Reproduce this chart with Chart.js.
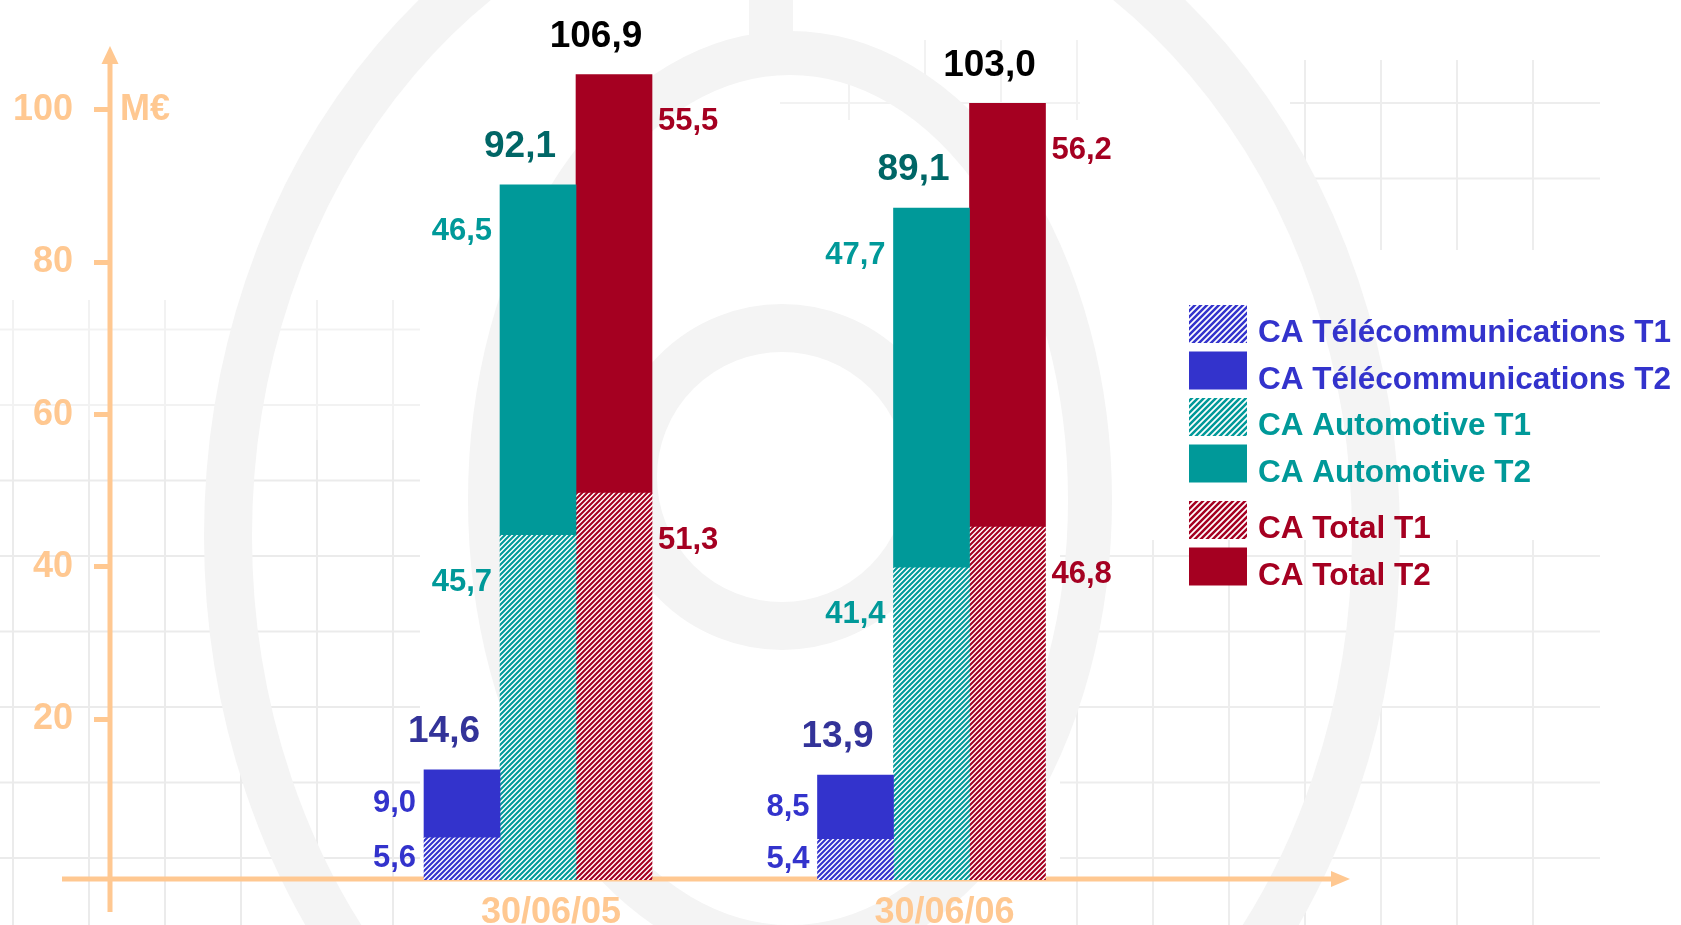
<!DOCTYPE html>
<html>
<head>
<meta charset="utf-8">
<script src="https://cdn.jsdelivr.net/npm/chart.js@4.4.1/dist/chart.umd.min.js"></script>
<style>
  html, body { margin: 0; padding: 0; background: #ffffff; overflow: hidden; }
  #wrap { width: 1681px; height: 925px; position: relative; }
</style>
</head>
<body>
<div id="wrap"><canvas id="c"></canvas></div>
<script>
// ---------- data ----------
const categories = ['30/06/05', '30/06/06'];
const telecomT1 = [5.6, 5.4];
const telecomT2 = [9.0, 8.5];
const automotiveT1 = [45.7, 41.4];
const automotiveT2 = [46.5, 47.7];
const totalT1 = [51.3, 46.8];
const totalT2 = [55.5, 56.2];
const telecomSum = [14.6, 13.9];
const automotiveSum = [92.1, 89.1];
const totalSum = [106.9, 103.0];
const yTickValues = [20, 40, 60, 80, 100];
const yUnit = 'M€';
const seriesNames = [
  'CA Télécommunications T1', 'CA Télécommunications T2',
  'CA Automotive T1', 'CA Automotive T2',
  'CA Total T1', 'CA Total T2'
];

// ---------- styles ----------
const FONT = '"Liberation Sans", Arial, Helvetica, sans-serif';
const PEACH = '#FFC891';
const BLUE = '#3333CC';
const TEAL = '#009999';
const RED = '#A50021';

function hatch(color, p) {
  const c = document.createElement('canvas');
  c.width = p; c.height = p;
  const g = c.getContext('2d');
  g.fillStyle = '#ffffff';
  g.fillRect(0, 0, p, p);
  g.strokeStyle = color;
  g.lineWidth = p * 0.42;
  g.beginPath();
  for (let k = -1; k <= 1; k++) {
    g.moveTo(k * p - 1, p + 1);
    g.lineTo(k * p + p + 1, -1);
  }
  g.stroke();
  return g.createPattern(c, 'repeat');
}

const series = [
  { data: telecomT1, stack: 'tel', color: BLUE, hatched: true, side: 'left' },
  { data: telecomT2, stack: 'tel', color: BLUE, hatched: false, side: 'left' },
  { data: automotiveT1, stack: 'auto', color: TEAL, hatched: true, side: 'left' },
  { data: automotiveT2, stack: 'auto', color: TEAL, hatched: false, side: 'left' },
  { data: totalT1, stack: 'tot', color: RED, hatched: true, side: 'right' },
  { data: totalT2, stack: 'tot', color: RED, hatched: false, side: 'right' }
];
const stackTops = [
  { dataset: 1, sums: telecomSum, color: '#333399' },
  { dataset: 3, sums: automotiveSum, color: '#006666' },
  { dataset: 5, sums: totalSum, color: '#000000' }
];

const fmt = v => v.toFixed(1).replace('.', ',');

// ---------- plugins ----------
const backgroundPlugin = {
  id: 'bgDecor',
  beforeDraw(chart) {
    const ctx = chart.ctx;
    ctx.save();
    ctx.fillStyle = '#ffffff';
    ctx.fillRect(0, 0, chart.width, chart.height);
    // faint grid patches
    const patches = [
      [0, 440, 420, 925, 0.08], [0, 300, 420, 440, 0.05],
      [1290, 60, 1600, 250, 0.07], [1060, 540, 1600, 925, 0.07],
      [780, 40, 1080, 120, 0.05]
    ];
    ctx.lineWidth = 2;
    patches.forEach(([x0, y0, x1, y1, a]) => {
      ctx.strokeStyle = 'rgba(0,0,0,' + a + ')';
      ctx.beginPath();
      for (let x = 13; x < 1681; x += 76) {
        if (x >= x0 && x <= x1) { ctx.moveTo(x, y0); ctx.lineTo(x, y1); }
      }
      for (let y = 27.5; y < 925; y += 75.5) {
        if (y >= y0 && y <= y1) { ctx.moveTo(x0, y); ctx.lineTo(x1, y); }
      }
      ctx.stroke();
    });
    // watermark rings
    ctx.strokeStyle = '#f4f4f4';
    ctx.lineWidth = 48;
    ctx.beginPath(); ctx.ellipse(802, 536, 574, 674, 0, 0, Math.PI * 2); ctx.stroke();
    ctx.lineWidth = 44;
    ctx.beginPath(); ctx.ellipse(790, 500, 300, 447, 0, 0, Math.PI * 2); ctx.stroke();
    ctx.lineWidth = 48;
    ctx.beginPath(); ctx.ellipse(782, 477, 149, 149, 0, 0, Math.PI * 2); ctx.stroke();
    ctx.fillStyle = '#f4f4f4';
    ctx.fillRect(749, 0, 44, 40);
    ctx.restore();
  }
};

const axesPlugin = {
  id: 'arrowAxes',
  beforeDatasetsDraw(chart) {
    const ctx = chart.ctx;
    const ys = chart.scales.yAxis;
    const ax = ys.right;
    const ay = chart.chartArea.bottom - 1;
    ctx.save();
    ctx.strokeStyle = PEACH;
    ctx.fillStyle = PEACH;
    ctx.lineWidth = 5;
    // y axis
    ctx.beginPath(); ctx.moveTo(ax, 912); ctx.lineTo(ax, 60); ctx.stroke();
    ctx.beginPath(); ctx.moveTo(ax, 46); ctx.lineTo(ax - 8.5, 64); ctx.lineTo(ax + 8.5, 64); ctx.closePath(); ctx.fill();
    // x axis
    ctx.beginPath(); ctx.moveTo(62, ay); ctx.lineTo(1336, ay); ctx.stroke();
    ctx.beginPath(); ctx.moveTo(1350, ay); ctx.lineTo(1331, ay - 8); ctx.lineTo(1331, ay + 8); ctx.closePath(); ctx.fill();
    // unit
    ctx.font = 'bold 36px ' + FONT;
    ctx.textAlign = 'left';
    ctx.textBaseline = 'middle';
    ctx.fillText(yUnit, ax + 10, ys.getPixelForValue(100));
    ctx.restore();
  }
};

const labelsPlugin = {
  id: 'valueLabels',
  afterDatasetsDraw(chart) {
    const ctx = chart.ctx;
    ctx.save();
    ctx.textBaseline = 'middle';
    series.forEach((s, i) => {
      const meta = chart.getDatasetMeta(i);
      meta.data.forEach((el, j) => {
        const p = el.getProps(['x', 'y', 'base', 'width'], true);
        const h = p.base - p.y;
        const ty = p.y + Math.min(h / 2, 47);
        ctx.font = 'bold 31px ' + FONT;
        ctx.fillStyle = s.color;
        if (s.side === 'left') {
          ctx.textAlign = 'right';
          ctx.fillText(fmt(s.data[j]), p.x - p.width / 2 - 8, ty);
        } else {
          ctx.textAlign = 'left';
          ctx.fillText(fmt(s.data[j]), p.x + p.width / 2 + 6, ty);
        }
      });
    });
    stackTops.forEach(t => {
      const meta = chart.getDatasetMeta(t.dataset);
      meta.data.forEach((el, j) => {
        const p = el.getProps(['x', 'y'], true);
        ctx.font = 'bold 37px ' + FONT;
        ctx.fillStyle = t.color;
        ctx.textAlign = 'center';
        ctx.fillText(fmt(t.sums[j]), p.x - 18, p.y - 38);
      });
    });
    ctx.restore();
  }
};

const legendPlugin = {
  id: 'customLegend',
  afterDraw(chart) {
    const ctx = chart.ctx;
    ctx.save();
    const sx = 1189, sw = 58, sh = 38, tx = 1258;
    let y = 305;
    chart.data.datasets.forEach((ds, i) => {
      if (i === 4) y += 10;
      const s = series[i];
      ctx.fillStyle = s.hatched ? hatch(s.color, 6) : s.color;
      ctx.fillRect(sx, y, sw, sh);
      ctx.font = 'bold 31.5px ' + FONT;
      ctx.fillStyle = s.color;
      ctx.textAlign = 'left';
      ctx.textBaseline = 'alphabetic';
      ctx.fillText(ds.label, tx, y + sh - 1);
      y += 46.5;
    });
    ctx.restore();
  }
};

// ---------- chart ----------
const datasets = series.map((s, i) => ({
  label: seriesNames[i],
  data: s.data.map((v, k) => ({ x: k, y: v })),
  stack: s.stack,
  backgroundColor: s.hatched ? hatch(s.color, 5) : s.color,
  borderWidth: 0,
  barThickness: 76,
  yAxisID: 'y',
  xAxisID: 'x'
}));

new Chart(document.getElementById('c'), {
  type: 'bar',
  data: { datasets },
  options: {
    responsive: true,
    maintainAspectRatio: false,
    animation: false,
    devicePixelRatio: 1,
    layout: { padding: 0 },
    plugins: { legend: { display: false }, tooltip: { enabled: false } },
    scales: {
      x: {
        type: 'linear',
        position: 'bottom',
        stacked: true,
        offset: false,
        min: -1.0877,
        max: 2.9047,
        grid: { display: false, drawTicks: false },
        border: { display: false },
        ticks: {
          autoSkip: false, maxRotation: 0, minRotation: 0,
          color: PEACH, font: { family: FONT, size: 36, weight: 'bold' },
          padding: 11, labelOffset: 13,
          callback: v => categories[v] !== undefined ? categories[v] : ''
        },
        afterBuildTicks: s => { s.ticks = categories.map((c, i) => ({ value: i })); },
        afterFit: s => { s.height = 45; s.paddingLeft = 0; s.paddingRight = 0; }
      },
      y: {
        display: false,
        stacked: true,
        min: 0,
        max: 116.7,
        afterFit: s => { s.paddingTop = 0; s.paddingBottom = 0; }
      },
      yAxis: {
        position: 'left',
        min: -1.1,
        max: 114.44,
        grid: { display: true, drawOnChartArea: false, drawTicks: true, tickLength: 16, tickColor: PEACH, tickWidth: 5, lineWidth: 5, color: PEACH },
        border: { display: false },
        ticks: {
          color: PEACH, font: { family: FONT, size: 36, weight: 'bold' },
          padding: 21, includeBounds: false
        },
        afterBuildTicks: s => { s.ticks = yTickValues.map(v => ({ value: v })); },
        afterFit: s => { s.width = 110; s.paddingTop = 0; s.paddingBottom = 0; }
      }
    }
  },
  plugins: [backgroundPlugin, axesPlugin, labelsPlugin, legendPlugin]
});
</script>
</body>
</html>
